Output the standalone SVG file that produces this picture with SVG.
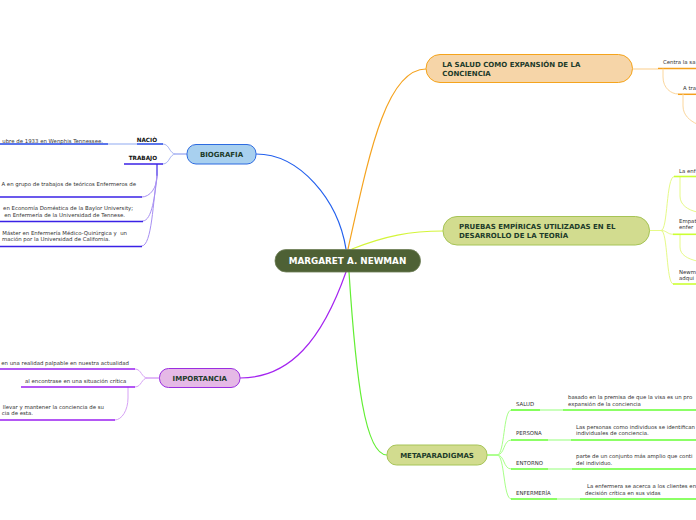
<svg xmlns="http://www.w3.org/2000/svg" width="696" height="520" viewBox="0 0 696 520">
<style>
.lbl{font-family:"DejaVu Sans",Verdana,sans-serif;font-weight:bold;font-size:7px;fill:#1d3b2a}
.t{font-family:"DejaVu Sans",Verdana,sans-serif;font-size:5.4px;fill:#333}
.tb{font-family:"DejaVu Sans",Verdana,sans-serif;font-size:5.7px;font-weight:bold;fill:#111}
.c{fill:none;stroke-linecap:round}
</style>
<rect width="696" height="520" fill="#fff"/>
<g id="connectors">
  <path class="c" d="M346,249 C338,200 300,154 256,154" stroke="#2360ee" stroke-width="1.2"/>
  <path class="c" d="M348,249 C368,160 385,69 426,69" stroke="#f5a31f" stroke-width="1.2"/>
  <path class="c" d="M352,249 C385,236 410,231 443,231" stroke="#d4f53a" stroke-width="1.2"/>
  <path class="c" d="M346,272 C322,340 290,378 240,378" stroke="#a424f0" stroke-width="1.2"/>
  <path class="c" d="M349,272 C356,380 365,455 387,455" stroke="#62ee33" stroke-width="1.2"/>
  <path class="c" d="M187,154 L176,154 C169,154 170,144 163,144" stroke="#a7b3f3" stroke-width="1"/>
  <path class="c" d="M187,154 L176,154 C169,154 170,164 163,164" stroke="#a7b3f3" stroke-width="1"/>
  <line x1="108" y1="144" x2="137" y2="144" stroke="#b4c6f6" stroke-width="1.5"/>
  <line x1="137" y1="144" x2="163" y2="144" stroke="#2448e6" stroke-width="1.5"/>
  <line x1="0" y1="144" x2="108" y2="144" stroke="#2448e6" stroke-width="1.5"/>
  <line x1="124" y1="164" x2="163" y2="164" stroke="#3a22e6" stroke-width="1.5"/>
  <line x1="157" y1="164" x2="157" y2="176" stroke="#3a22e6" stroke-width="1.2"/>
  <path class="c" d="M157,176 C157,188 150,197 142,197" stroke="#a78ff2" stroke-width="1"/>
  <path class="c" d="M157,176 C155,195 152,221 143,221" stroke="#a78ff2" stroke-width="1"/>
  <path class="c" d="M157,176 C153,200 152,246 142,246" stroke="#a78ff2" stroke-width="1"/>
  <line x1="0" y1="197" x2="142" y2="197" stroke="#3a22e6" stroke-width="1.5"/>
  <line x1="0" y1="221.5" x2="143" y2="221.5" stroke="#3a22e6" stroke-width="1.5"/>
  <line x1="0" y1="246.5" x2="142" y2="246.5" stroke="#3a22e6" stroke-width="1.5"/>
  <path class="c" d="M160,378 L148,378 C141,378 142,369 135,369" stroke="#d6a2f5" stroke-width="1"/>
  <path class="c" d="M160,378 L148,378 C141,378 142,387 135,387" stroke="#d6a2f5" stroke-width="1"/>
  <path class="c" d="M128,387 L128,398 C128,410 122,420 115,420" stroke="#d6a2f5" stroke-width="1"/>
  <line x1="0" y1="369" x2="135" y2="369" stroke="#9a1ff0" stroke-width="1.5"/>
  <line x1="21" y1="387" x2="135" y2="387" stroke="#9a1ff0" stroke-width="1.5"/>
  <line x1="0" y1="420" x2="115" y2="420" stroke="#9a1ff0" stroke-width="1.5"/>
  <line x1="633" y1="69" x2="658" y2="69" stroke="#fbd69c" stroke-width="1.2"/>
  <line x1="658" y1="68.5" x2="696" y2="68.5" stroke="#f5a01c" stroke-width="1.5"/>
  <path class="c" d="M663,69 L663,77 C663,88 671,94 678,94" stroke="#fbd69c" stroke-width="1"/>
  <line x1="678" y1="94.3" x2="696" y2="94.3" stroke="#f5a01c" stroke-width="1.5"/>
  <path class="c" d="M683,94 L683,106 C683,115 690,121 697,124" stroke="#fbd69c" stroke-width="1"/>
  <path class="c" d="M650,230.5 L661,230.5 C668,230.5 666,176.5 674,176.5" stroke="#e6fa88" stroke-width="1"/>
  <path class="c" d="M650,230.5 L661,230.5 C667,230.5 667,234.3 673,234.3" stroke="#e6fa88" stroke-width="1"/>
  <path class="c" d="M650,230.5 L661,230.5 C668,230.5 666,284 673,284" stroke="#e6fa88" stroke-width="1"/>
  <path class="c" d="M680,177 L680,196 C680,205 688,210 697,212" stroke="#e6fa88" stroke-width="1"/>
  <path class="c" d="M680,235 L680,247 C680,255 688,259 697,261" stroke="#e6fa88" stroke-width="1"/>
  <line x1="674" y1="176.5" x2="696" y2="176.5" stroke="#ccff33" stroke-width="1.6"/>
  <line x1="673" y1="234.3" x2="696" y2="234.3" stroke="#ccff33" stroke-width="1.6"/>
  <line x1="673" y1="284" x2="696" y2="284" stroke="#ccff33" stroke-width="1.6"/>
  <path class="c" d="M487,455 L497,455 C505,455 503,410 511,410" stroke="#a8ff88" stroke-width="1"/>
  <path class="c" d="M487,455 L497,455 C505,455 503,440 511,440" stroke="#a8ff88" stroke-width="1"/>
  <path class="c" d="M487,455 L497,455 C505,455 503,469 511,469" stroke="#a8ff88" stroke-width="1"/>
  <path class="c" d="M487,455 L497,455 C505,455 503,499 511,499" stroke="#a8ff88" stroke-width="1"/>
  <line x1="511" y1="410" x2="540" y2="410" stroke="#66ff33" stroke-width="1.6"/>
  <line x1="540" y1="410" x2="563" y2="410" stroke="#b4ffa0" stroke-width="1.4"/>
  <line x1="563" y1="410" x2="696" y2="410" stroke="#66ff33" stroke-width="1.6"/>
  <line x1="511" y1="440" x2="548" y2="440" stroke="#66ff33" stroke-width="1.6"/>
  <line x1="548" y1="440" x2="571" y2="440" stroke="#b4ffa0" stroke-width="1.4"/>
  <line x1="571" y1="440" x2="696" y2="440" stroke="#66ff33" stroke-width="1.6"/>
  <line x1="511" y1="469" x2="548" y2="469" stroke="#66ff33" stroke-width="1.6"/>
  <line x1="548" y1="469" x2="572" y2="469" stroke="#b4ffa0" stroke-width="1.4"/>
  <line x1="572" y1="469" x2="696" y2="469" stroke="#66ff33" stroke-width="1.6"/>
  <line x1="511" y1="499" x2="557" y2="499" stroke="#66ff33" stroke-width="1.6"/>
  <line x1="557" y1="499" x2="580" y2="499" stroke="#b4ffa0" stroke-width="1.4"/>
  <line x1="580" y1="499" x2="696" y2="499" stroke="#66ff33" stroke-width="1.6"/>
</g>
<g id="central">
  <rect x="275" y="249.5" width="145.5" height="22.5" rx="11" fill="#4e6135" stroke="#6d7d55" stroke-width="0.8"/>
  <text x="347.5" y="263.8" text-anchor="middle" font-family="DejaVu Sans,Verdana,sans-serif" font-weight="bold" font-size="8.8" fill="#fff">MARGARET A. NEWMAN</text>
</g>
<g id="biografia">
  <rect x="187" y="144.5" width="69" height="19.5" rx="9" fill="#a8d0ef" stroke="#2d6be0" stroke-width="1"/>
  <text class="lbl" x="221.5" y="156.8" text-anchor="middle">BIOGRAFIA</text>
</g>
<g id="nacio"><text class="tb" x="157" y="142" text-anchor="end">NACIÒ</text></g>
<g id="nacio-texto"><text class="t" x="103" y="142.5" text-anchor="end">ubre de 1933 en Wenphis Tennessee.</text></g>
<g id="trabajo"><text class="tb" x="157" y="160.2" text-anchor="end">TRABAJO</text></g>
<g id="trabajo-1"><text class="t" x="136" y="186.2" text-anchor="end">A en grupo de trabajos de teóricos Enfermeros de</text></g>
<g id="trabajo-2">
  <text class="t" x="133" y="210.3" text-anchor="end">en Economía Doméstica de la Baylor University;</text>
  <text class="t" x="125" y="216.5" text-anchor="end">en Enfermería de la Universidad de Tennese.</text>
</g>
<g id="trabajo-3">
  <text class="t" x="127" y="234.7" text-anchor="end" xml:space="preserve">Máster en Enfermería Médico-Quirúrgica y  un</text>
  <text class="t" x="110" y="241" text-anchor="end">mación por la Universidad de California.</text>
</g>
<g id="importancia">
  <rect x="159.5" y="368.5" width="80.5" height="19" rx="9" fill="#e5b9e6" stroke="#9b2de0" stroke-width="1"/>
  <text class="lbl" x="199.8" y="380.6" text-anchor="middle">IMPORTANCIA</text>
</g>
<g id="importancia-1"><text class="t" x="129" y="365.3" text-anchor="end">en una realidad palpable en nuestra actualidad</text></g>
<g id="importancia-2"><text class="t" x="25" y="383">al encontrase en una situación crítica</text></g>
<g id="importancia-3">
  <text class="t" x="104" y="408.7" text-anchor="end">llevar y mantener la conciencia de su</text>
  <text class="t" x="33" y="414.8" text-anchor="end">cia de esta.</text>
</g>
<g id="salud">
  <rect x="426" y="54.5" width="206.5" height="28" rx="14" fill="#f6d5a8" stroke="#f5a41c" stroke-width="1"/>
  <text class="lbl" x="442.3" y="66.8">LA SALUD COMO EXPANSIÓN DE LA</text>
  <text class="lbl" x="442.3" y="75.8">CONCIENCIA</text>
</g>
<g id="salud-1"><text class="t" x="663" y="63.7">Centra la sa</text></g>
<g id="salud-2"><text class="t" x="683" y="89.7">A tra</text></g>
<g id="pruebas">
  <rect x="443" y="216.5" width="206.5" height="28.5" rx="14" fill="#d2dc8f" stroke="#a6c456" stroke-width="1"/>
  <text class="lbl" x="459" y="229.2">PRUEBAS EMPÍRICAS UTILIZADAS EN EL</text>
  <text class="lbl" x="459" y="238.2">DESARROLLO DE LA TEORÍA</text>
</g>
<g id="pruebas-1"><text class="t" x="679" y="172.7">La enf</text></g>
<g id="pruebas-2">
  <text class="t" x="679" y="222.7">Empat</text>
  <text class="t" x="679" y="228.9">enfer</text>
</g>
<g id="pruebas-3">
  <text class="t" x="679" y="273.7">Newm</text>
  <text class="t" x="679" y="279.5">adqui</text>
</g>
<g id="metaparadigmas">
  <rect x="387" y="445" width="100" height="20" rx="9.5" fill="#d2dc8f" stroke="#a6c456" stroke-width="1"/>
  <text class="lbl" x="437" y="457.5" text-anchor="middle">METAPARADIGMAS</text>
</g>
<g id="m-salud">
  <text class="t" x="516" y="406" font-size="5.5">SALUD</text>
  <text class="t" x="568" y="399">basado en la premisa de que la visa es un pro</text>
  <text class="t" x="568" y="406">expansión de la conciencia</text>
</g>
<g id="m-persona">
  <text class="t" x="516" y="435.3" font-size="5.5">PERSONA</text>
  <text class="t" x="576" y="429.3">Las personas como individuos se identifican</text>
  <text class="t" x="576" y="434.9">individuales de conciencia.</text>
</g>
<g id="m-entorno">
  <text class="t" x="516" y="465.3" font-size="5.5">ENTORNO</text>
  <text class="t" x="576" y="458">parte de un conjunto más amplio que conti</text>
  <text class="t" x="576" y="464.7">del individuo.</text>
</g>
<g id="m-enfermeria">
  <text class="t" x="516" y="494.8" font-size="5.5">ENFERMERÍA</text>
  <text class="t" x="587" y="488">La enfermera se acerca a los clientes en</text>
  <text class="t" x="585" y="494.8">decisión crítica en sus vidas</text>
</g>
</svg>
